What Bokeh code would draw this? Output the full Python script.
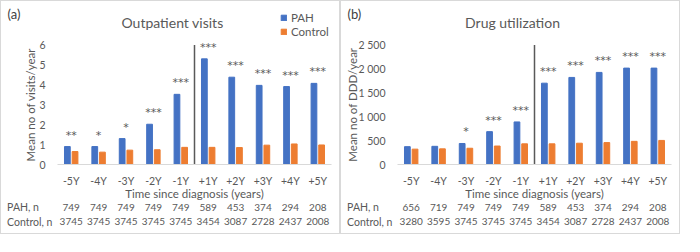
import numpy as np
from bokeh.plotting import figure
from bokeh.models import Range1d, FixedTicker, ColumnDataSource, Legend, LegendItem
from bokeh.core.properties import value
from bokeh.layouts import row
from bokeh.embed import file_html
from bokeh.resources import INLINE

# ---------------- data ----------------
cats = ["-5Y", "-4Y", "-3Y", "-2Y", "-1Y", "+1Y", "+2Y", "+3Y", "+4Y", "+5Y"]
diagnosis_after = "+1Y"

visits_pah = [0.90, 0.90, 1.30, 2.02, 3.52, 5.30, 4.38, 3.97, 3.91, 4.07]
visits_ctrl = [0.65, 0.62, 0.72, 0.74, 0.86, 0.86, 0.85, 0.97, 1.03, 0.98]
visits_sig = ["**", "*", "*", "***", "***", "***", "***", "***", "***", "***"]
visits_ticks = [0, 1, 2, 3, 4, 5, 6]
visits_tick_labels = ["0", "1", "2", "3", "4", "5", "6"]
visits_n_pah = [749, 749, 749, 749, 749, 589, 453, 374, 294, 208]
visits_n_ctrl = [3745, 3745, 3745, 3745, 3745, 3454, 3087, 2728, 2437, 2008]

ddd_pah = [373, 380, 439, 687, 890, 1700, 1820, 1925, 2015, 2015]
ddd_ctrl = [321, 327, 340, 386, 432, 432, 445, 458, 484, 503]
ddd_sig = ["", "", "*", "***", "***", "***", "***", "***", "***", "***"]
ddd_ticks = [0, 500, 1000, 1500, 2000, 2500]
ddd_tick_labels = ["0", "500", "1 000", "1 500", "2 000", "2 500"]
ddd_n_pah = [656, 719, 749, 749, 749, 589, 453, 374, 294, 208]
ddd_n_ctrl = [3280, 3595, 3745, 3745, 3745, 3454, 3087, 2728, 2437, 2008]

series_names = ["PAH", "Control"]
row_heads = ["PAH, n", "Control, n"]
x_title = "Time since diagnosis (years)"
colors = ["#4472C4", "#ED7D31"]

# ---------------- layout / style ----------------
FONT = value("Lato")
TXT = "#595959"
W, H = 340, 234          # canvas of each panel
LEFT_PX = 56             # left edge of plot area
CAT_PX = 27.4            # width of one category
BASE_PX = 163            # y of the zero line
TOP_TICK_PX = 43.4       # y of the highest tick
BAR_W = 0.21
BAR_SHIFT = 0.14


def panel(tag, title, ylabel, ylabel_x, pah, ctrl, sig, n_pah, n_ctrl, ticks, tick_labels,
          show_legend):
    ppu = (BASE_PX - TOP_TICK_PX) / ticks[-1]
    ncat = len(cats)
    p = figure(x_range=Range1d(-LEFT_PX / CAT_PX, (W - LEFT_PX) / CAT_PX),
               y_range=Range1d(-(H - BASE_PX) / ppu, BASE_PX / ppu),
               width=W, height=H, output_backend="svg", toolbar_location=None,
               min_border=0)
    p.extra_x_ranges = {"px": Range1d(0, W)}
    p.extra_y_ranges = {"px": Range1d(H, 0)}
    p.styles = {"border": "1px solid #d9d9d9"}
    p.outline_line_color = None
    p.grid.visible = False

    xs = np.arange(ncat) + 0.5
    src = ColumnDataSource(dict(x=xs, xl=xs - BAR_SHIFT, xr=xs + BAR_SHIFT,
                                pah=pah, ctrl=ctrl, sig=sig,
                                npah=[str(v) for v in n_pah],
                                nctrl=[str(v) for v in n_ctrl]))
    r1 = p.vbar(x="xl", top="pah", width=BAR_W, source=src, color=colors[0])
    r2 = p.vbar(x="xr", top="ctrl", width=BAR_W, source=src, color=colors[1])

    split = cats.index(diagnosis_after)
    p.segment(x0=[split], x1=[split], y0=[ticks[0]], y1=[ticks[-1]],
              line_color="#595959", line_width=1.5)

    # y axis
    ya = p.yaxis[0]
    ya.fixed_location = 0
    ya.ticker = FixedTicker(ticks=ticks)
    ya.major_label_overrides = {t: l for t, l in zip(ticks, tick_labels)}
    ya.axis_line_color = None
    ya.major_tick_line_color = None
    ya.minor_tick_line_color = None
    ya.major_tick_out = 0
    ya.major_tick_in = 0
    ya.major_label_standoff = 12
    ya.major_label_text_font = "Lato"
    ya.major_label_text_font_size = "10.5px"
    ya.major_label_text_color = TXT

    # x axis
    xa = p.xaxis[0]
    xa.fixed_location = 0
    xa.bounds = (0, ncat)
    xa.ticker = FixedTicker(ticks=list(xs))
    xa.major_label_overrides = {float(x): c for x, c in zip(xs, cats)}
    xa.axis_line_color = "#d9d9d9"
    xa.major_tick_line_color = None
    xa.minor_tick_line_color = None
    xa.major_tick_out = 0
    xa.major_tick_in = 0
    xa.major_label_standoff = 10
    xa.major_label_text_font = "Lato"
    xa.major_label_text_font_size = "10.5px"
    xa.major_label_text_color = TXT

    # significance marks above PAH bars
    p.text(x="x", y="pah", text="sig", source=src, y_offset=-11.5,
           text_align="center", text_baseline="alphabetic",
           text_font=value("DejaVu Sans"), text_font_size="11px", text_color=TXT)

    # n table under the axis
    for field, ypx, head in (("npah", BASE_PX + 42.5, row_heads[0]),
                             ("nctrl", BASE_PX + 57.3, row_heads[1])):
        p.text(x="x", y=ypx, text=field, source=src, y_range_name="px",
               text_align="center", text_baseline="middle",
               text_font=FONT, text_font_size="10px", text_color=TXT)
        p.text(x=[5.6], y=[ypx], text=[head], x_range_name="px", y_range_name="px",
               text_align="left", text_baseline="middle",
               text_font=FONT, text_font_size="10.5px", text_color=TXT)

    # axis titles
    p.text(x=[ncat / 2], y=[BASE_PX + 29.3], text=[x_title], y_range_name="px",
           text_align="center", text_baseline="middle",
           text_font=FONT, text_font_size="11.5px", text_color=TXT)
    p.text(x=[ylabel_x], y=[(BASE_PX + TOP_TICK_PX) / 2], text=[ylabel], angle=np.pi / 2,
           x_range_name="px", y_range_name="px",
           text_align="center", text_baseline="middle",
           text_font=FONT, text_font_size="11.5px", text_color=TXT)

    # chart title and panel tag
    p.text(x=[W / 2 + 1], y=[20.5], text=[title], x_range_name="px", y_range_name="px",
           text_align="center", text_baseline="middle",
           text_font=FONT, text_font_size="14px", text_color=TXT)
    p.text(x=[6], y=[12.5], text=[tag], x_range_name="px", y_range_name="px",
           text_align="left", text_baseline="middle",
           text_font=FONT, text_font_size="13px", text_color="#404040")

    if show_legend:
        leg = Legend(items=[LegendItem(label=series_names[0], renderers=[r1]),
                            LegendItem(label=series_names[1], renderers=[r2])],
                     location=(279, H - 37), orientation="vertical",
                     glyph_width=7, glyph_height=7, label_height=7, spacing=1,
                     label_standoff=4, padding=0, margin=0,
                     border_line_color=None, background_fill_alpha=0,
                     label_text_font="Lato", label_text_font_size="11.5px",
                     label_text_color=TXT)
        p.add_layout(leg, "center")
    return p


pa = panel("(a)", "Outpatient visits", "Mean no of visits/year", 28.5,
           visits_pah, visits_ctrl, visits_sig, visits_n_pah, visits_n_ctrl,
           visits_ticks, visits_tick_labels, True)
pb = panel("(b)", "Drug utilization", "Mean no of DDD/year", 10.5,
           ddd_pah, ddd_ctrl, ddd_sig, ddd_n_pah, ddd_n_ctrl,
           ddd_ticks, ddd_tick_labels, False)

layout = row(pa, pb)
open("out.html", "w").write(file_html(layout, INLINE))
